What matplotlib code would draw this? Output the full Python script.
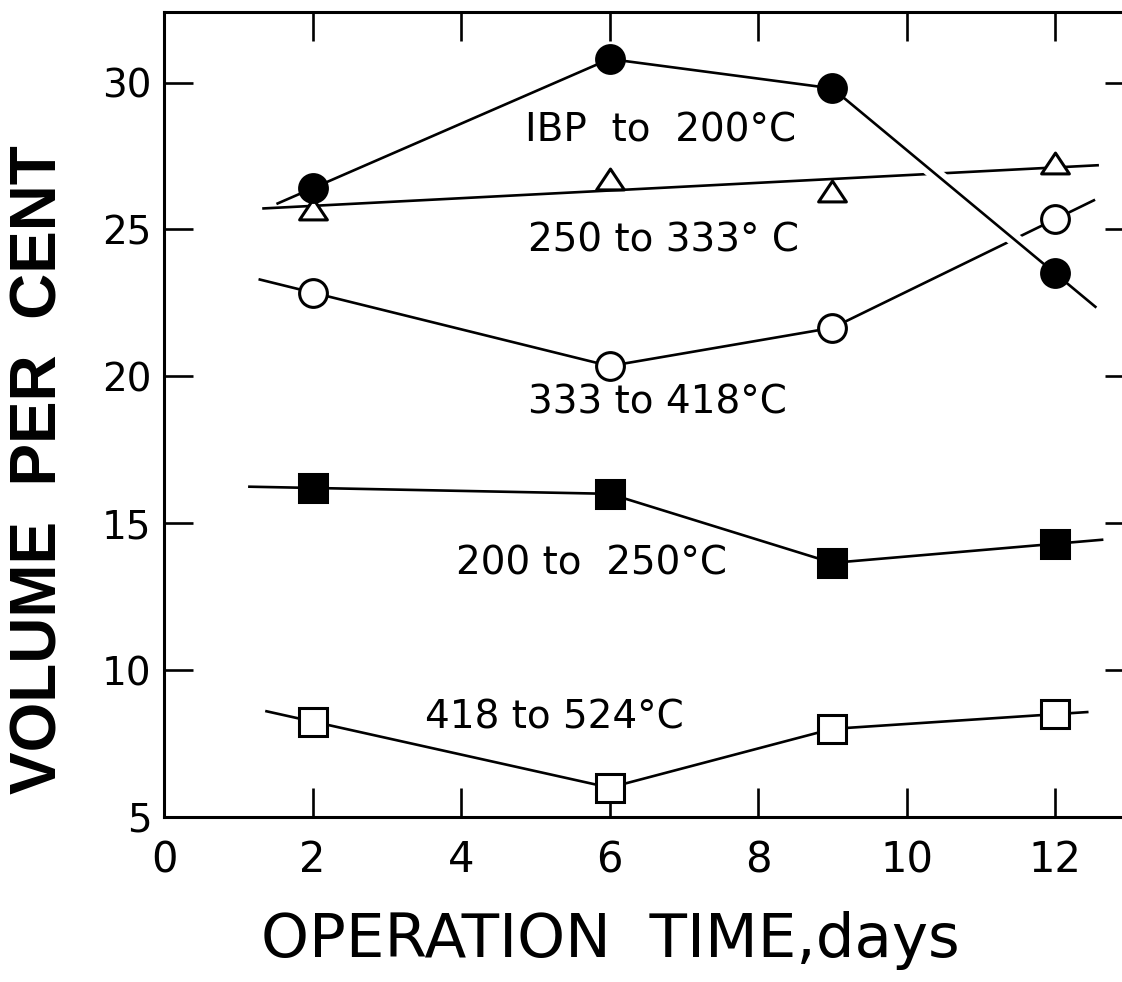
import numpy as np
import matplotlib.pyplot as plt
import matplotlib.patheffects as pe
from matplotlib.path import Path


days = np.array([2, 6, 9, 12])

# volume per cent of each boiling range
ibp_200 = np.array([26.4, 30.8, 29.8, 23.5])
c250_333 = np.array([25.7, 26.7, 26.3, 27.25])
c333_418 = np.array([22.85, 20.35, 21.65, 25.35])
c200_250 = np.array([16.2, 16.0, 13.65, 14.3])
c418_524 = np.array([8.25, 6.0, 8.0, 8.5])

# how far each drawn line runs past the first / last point
line_from = [1.53, 1.34, 1.29, 1.15, 1.38]
line_to = [12.54, 12.57, 12.52, 12.63, 12.43]

labels = ['IBP  to  200°C', '250 to 333° C', '333 to 418°C',
          '200 to  250°C', '418 to 524°C']
label_x = [6.69, 6.73, 6.65, 5.76, 5.26]
label_y = [28.37, 24.63, 19.12, 13.64, 8.40]

x_ticks = [0, 2, 4, 6, 8, 10, 12]
y_ticks = [5, 10, 15, 20, 25, 30]


def extend(x, y, x0, x1):
    # carry the first and last segments out to x0 / x1
    y0 = y[0] + (y[1] - y[0]) / (x[1] - x[0]) * (x0 - x[0])
    y1 = y[-1] + (y[-1] - y[-2]) / (x[-1] - x[-2]) * (x1 - x[-1])
    return np.r_[x0, x, x1], np.r_[y0, y, y1]


fig = plt.figure(figsize=(11.22, 9.82), dpi=100)
ax = fig.add_axes([164 / 1122, 165 / 982, 970 / 1122, 805 / 982])

lw = 1.9
mk = dict(markersize=20, markeredgewidth=2.2, markeredgecolor='black',
          linestyle='none', zorder=5)

# 250-333: straight fitted line
k, b = np.polyfit(days, c250_333, 1)
fx = np.array([line_from[1], line_to[1]])
ax.plot(fx, k * fx + b, color='black', lw=lw, zorder=2)

# 333-418
ex, ey = extend(days, c333_418, line_from[2], line_to[2])
ax.plot(ex, ey, color='black', lw=lw, zorder=2)

# 200-250
ex, ey = extend(days, c200_250, line_from[3], line_to[3])
ax.plot(ex, ey, color='black', lw=lw, zorder=2)

# 418-524
ex, ey = extend(days, c418_524, line_from[4], line_to[4])
ax.plot(ex, ey, color='black', lw=lw, zorder=2)

# IBP-200, the falling tail breaks the lines it crosses
ex, ey = extend(days, ibp_200, line_from[0], line_to[0])
ax.plot(ex[:-2], ey[:-2], color='black', lw=lw, zorder=3)
ax.plot(ex[-3:], ey[-3:], color='black', lw=lw, zorder=3,
        path_effects=[pe.Stroke(linewidth=10, foreground='white'), pe.Normal()])

# flat open triangle
tri = Path([(0, 0.75), (-1, -0.75), (1, -0.75), (0, 0.75)], closed=True)
ax.plot(days, c250_333, marker=tri, markerfacecolor='white', **mk)
ax.plot(days, ibp_200, marker='o', markerfacecolor='black', **mk)
ax.plot(days, c333_418, marker='o', markerfacecolor='white', **mk)
ax.plot(days, c200_250, marker='s', markerfacecolor='black', **mk)
ax.plot(days, c418_524, marker='s', markerfacecolor='white', **mk)

for t, tx, ty in zip(labels, label_x, label_y):
    ax.text(tx, ty, t, ha='center', va='center', fontsize=28, zorder=6)

ax.set_xlim(0, 13.06)
ax.set_ylim(5, 32.4)
ax.set_xticks(x_ticks)
ax.set_yticks(y_ticks)
ax.tick_params(direction='in', length=21, width=1.9, top=True, right=True,
               labelright=False, labeltop=False)
ax.tick_params(axis='x', labelsize=30, pad=16)
ax.tick_params(axis='y', labelsize=28, pad=9)
for s in ax.spines.values():
    s.set_linewidth(2.2)

fig.text(40 / 1122, 1 - 470 / 982, 'VOLUME  PER  CENT', rotation=90,
         ha='center', va='center', fontsize=46, fontweight='bold',
         family='Liberation Sans')
fig.text(610 / 1122, 1 - 940 / 982, 'OPERATION  TIME,days',
         ha='center', va='center', fontsize=44)

fig.savefig('out.png', dpi=100)
